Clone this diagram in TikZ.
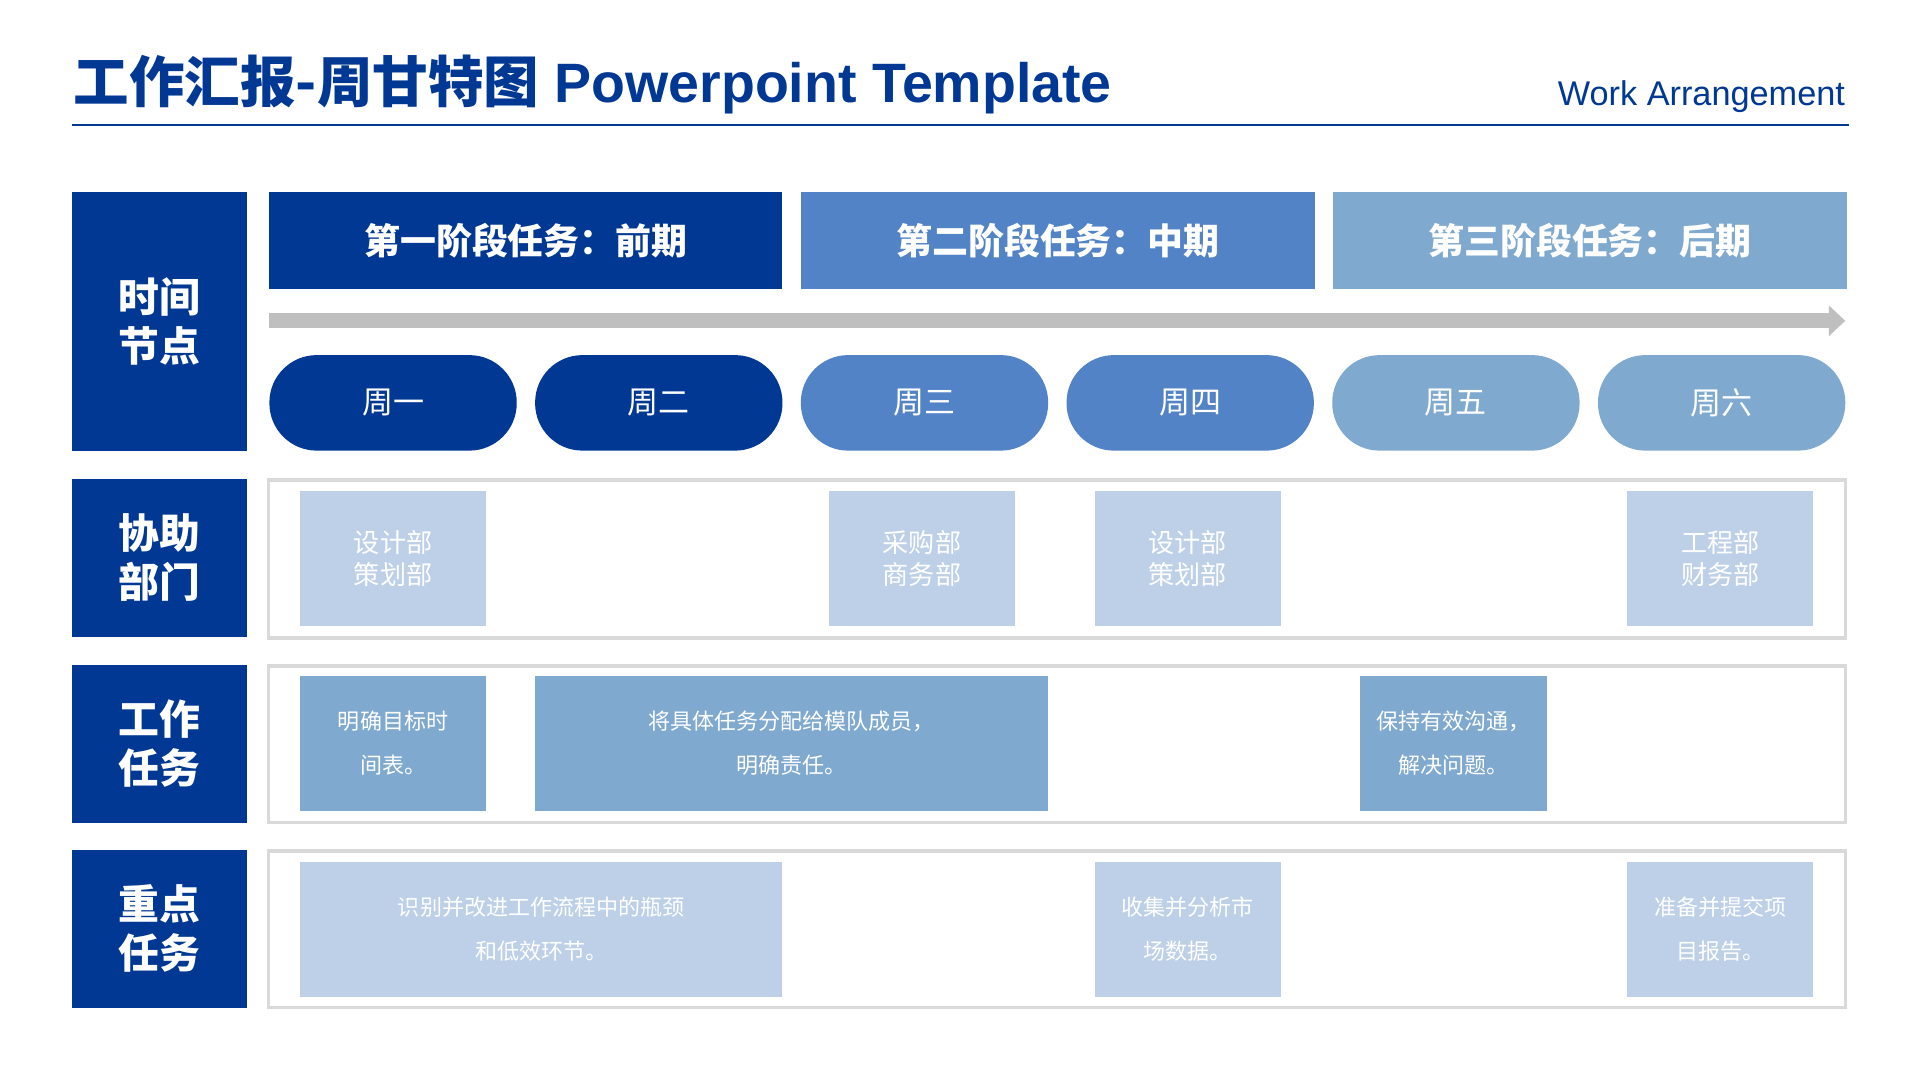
\documentclass[tikz,border=0pt]{standalone}
\usepackage{fontspec}
\setmainfont{Liberation Sans}
\newfontfamily\cjk{Noto Sans CJK SC}
\usetikzlibrary{arrows.meta}
\definecolor{deepblue}{HTML}{003893}
\definecolor{midblue}{HTML}{5283C6}
\definecolor{softblue}{HTML}{7FA9CE}
\definecolor{paleblue}{HTML}{BDD0E8}
\definecolor{framegray}{HTML}{D9D9D9}
\definecolor{arrowgray}{HTML}{BFBFBF}

\tikzset{
  sidelabel/.style={text=white, font=\cjk\bfseries\fontsize{25}{30}\selectfont, align=center},
  phase/.style={text=white, font=\cjk\bfseries\fontsize{22}{26}\selectfont},
  week/.style={text=white, font=\cjk\fontsize{19}{22}\selectfont},
  dept/.style={text=white, font=\cjk\fontsize{16}{20}\selectfont, align=center},
  task/.style={text=white, font=\cjk\fontsize{13.5}{27}\selectfont, align=center},
  rowframe/.style={draw=framegray, line width=2pt}
}

% box from corner to corner, label at its centre
\newcommand{\cellbox}[7]{%
  \fill[#5] (#1,#2) rectangle (#3,#4);
  \node[#6] at ({(#1+#3)/2},{(#2+#4)/2}) {#7};
}

\begin{document}
\begin{tikzpicture}[x=0.75pt, y=-0.75pt]
  \useasboundingbox (0,0) rectangle (1568,882);

  % Title
  \node[anchor=base west, text=deepblue, font=\bfseries\fontsize{34}{40}\selectfont, inner sep=0] (title) at (60,84)
    {{\cjk 工作汇报-周甘特图} Powerpoint Template};
  \node[anchor=base east, text=deepblue, font=\fontsize{21}{25}\selectfont, inner sep=0] (subtitle) at (1507,86)
    {Work Arrangement};
  \draw[deepblue, line width=1.5pt] (59,102) -- (1510,102);

  % Left column
  \cellbox{59}{157}{202}{368}{deepblue}{sidelabel}{时间\\节点}
  \cellbox{59}{391}{202}{520}{deepblue}{sidelabel}{协助\\部门}
  \cellbox{59}{543}{202}{672}{deepblue}{sidelabel}{工作\\任务}
  \cellbox{59}{694}{202}{823}{deepblue}{sidelabel}{重点\\任务}

  % Phases
  \cellbox{220}{157}{639}{236}{deepblue}{phase}{第一阶段任务：前期}
  \cellbox{654}{157}{1074}{236}{midblue}{phase}{第二阶段任务：中期}
  \cellbox{1089}{157}{1508}{236}{softblue}{phase}{第三阶段任务：后期}

  % Time arrow
  \coordinate (tstart) at (220,262);
  \coordinate (tend) at (1507,262);
  \draw[arrowgray, line width=9pt, -{Triangle[length=10pt, width=18pt]}] (tstart) -- (tend);

  % Weeks
  \foreach \x/\c/\w [count=\i] in {220/deepblue/周一, 437/deepblue/周二, 654/midblue/周三,
                                   871/midblue/周四, 1088/softblue/周五, 1305/softblue/周六} {
    \fill[\c, rounded corners=29pt] (\x,290) rectangle (\x+202,368);
    \node[week] (week\i) at (\x+101,329) {\w};
  }

  % Row frames
  \draw[rowframe] (219,392) rectangle (1507,521);
  \draw[rowframe] (219,544) rectangle (1507,672);
  \draw[rowframe] (219,695) rectangle (1507,823);

  % Departments
  \cellbox{245}{401}{397}{511}{paleblue}{dept}{设计部\\策划部}
  \cellbox{677}{401}{829}{511}{paleblue}{dept}{采购部\\商务部}
  \cellbox{894}{401}{1046}{511}{paleblue}{dept}{设计部\\策划部}
  \cellbox{1329}{401}{1481}{511}{paleblue}{dept}{工程部\\财务部}

  % Work tasks
  \cellbox{245}{552}{397}{662}{softblue}{task}{明确目标时\\间表。}
  \cellbox{437}{552}{856}{662}{softblue}{task}{将具体任务分配给模队成员，\\明确责任。}
  \cellbox{1111}{552}{1263}{662}{softblue}{task}{保持有效沟通，\\解决问题。}

  % Key tasks
  \cellbox{245}{704}{639}{814}{paleblue}{task}{识别并改进工作流程中的瓶颈\\和低效环节。}
  \cellbox{894}{704}{1046}{814}{paleblue}{task}{收集并分析市\\场数据。}
  \cellbox{1329}{704}{1481}{814}{paleblue}{task}{准备并提交项\\目报告。}
\end{tikzpicture}
\end{document}
